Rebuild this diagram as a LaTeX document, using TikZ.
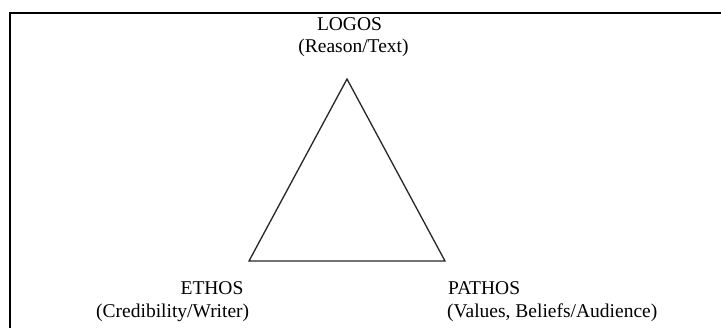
\documentclass[tikz,border=0pt]{standalone}
\usepackage{fontspec}
\setmainfont{Liberation Serif}
\begin{document}
\begin{tikzpicture}[x=1pt,y=-1pt,
  lbl/.style={inner sep=0pt,font=\fontsize{19.5}{22}\selectfont,text=black},
  tri/.style={draw=black!85,line width=1.3pt,line join=miter},
  frm/.style={draw=black,line width=2pt}]
\useasboundingbox (0,0) rectangle (721,327);
% frame (only top and left edges are visible)
\coordinate (fbl) at (10,330);
\coordinate (ftl) at (10,13);
\coordinate (ftr) at (724,13);
\draw[frm] (fbl) -- (ftl) -- (ftr);
% triangle
\coordinate (apex) at (347,79);
\coordinate (bl) at (249,261);
\coordinate (br) at (445,261);
\draw[tri] (apex) -- (bl) -- (br) -- cycle;
% labels
\node[lbl,anchor=base] (logos) at (349.5,30) {LOGOS};
\node[lbl,anchor=base] (reason) at (353.5,52) {(Reason/Text)};
\node[lbl,anchor=base] (ethos) at (212,294) {ETHOS};
\node[lbl,anchor=base west] (cred) at (96,317) {(Credibility/Writer)};
\node[lbl,anchor=base west] (pathos) at (448,294) {PATHOS};
\node[lbl,anchor=base west] (values) at (447,317) {(Values, Beliefs/Audience)};
\end{tikzpicture}
\end{document}
